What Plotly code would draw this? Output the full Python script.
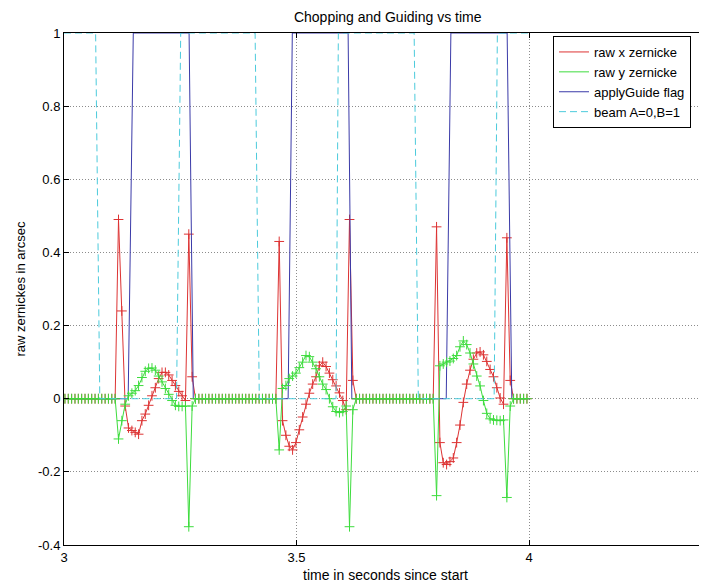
import plotly.graph_objects as go

# ---------------- data ----------------
sample_t0 = 3.002          # first sample time (s)
sample_dt = 0.0072         # sample interval (s)

raw_x_zernike = [
    0, 0, 0, 0, 0, 0, 0, 0, 0, 0, 0, 0, 0, 0, 0,
    0, 0.49, 0.24, -0.02, -0.08, -0.087, -0.092, -0.097, -0.060, -0.042,
    -0.018, 0.008, 0.030, 0.055, 0.072, 0.072, 0.065, 0.050, 0.036, 0.020,
    0.008, -0.005, 0.45, 0.06,
    0, 0, 0, 0, 0, 0, 0, 0, 0, 0, 0, 0, 0, 0, 0, 0, 0, 0, 0, 0, 0, 0, 0, 0,
    0, 0.43, -0.06, -0.10, -0.13, -0.14, -0.12, -0.085, -0.05, -0.015,
    0.015, 0.04, 0.06, 0.09, 0.10, 0.088, 0.07, 0.052, 0.035, 0.016,
    -0.005, -0.03, 0.49, 0.05,
    0, 0, 0, 0, 0, 0, 0, 0, 0, 0, 0, 0, 0, 0, 0, 0, 0, 0, 0, 0, 0, 0, 0,
    0, 0.47, -0.12, -0.175, -0.18, -0.172, -0.162, -0.12, -0.072, -0.01,
    0.04, 0.078, 0.108, 0.125, 0.128, 0.12, 0.102, 0.08, 0.06, 0.03,
    0.002, -0.015, 0.44, 0.05,
    0, 0, 0, 0, 0,
]

raw_y_zernike = [
    0, 0, 0, 0, 0, 0, 0, 0, 0, 0, 0, 0, 0, 0, 0,
    0, -0.11, -0.06, -0.015, 0.008, 0.015, 0.022, 0.036, 0.058, 0.075,
    0.083, 0.084, 0.078, 0.062, 0.046, 0.028, 0.012, -0.005, -0.018, -0.021,
    -0.021, -0.02, -0.35, -0.02,
    0, 0, 0, 0, 0, 0, 0, 0, 0, 0, 0, 0, 0, 0, 0, 0, 0, 0, 0, 0, 0, 0, 0, 0,
    0, -0.14, 0.028, 0.036, 0.055, 0.062, 0.07, 0.085, 0.10, 0.118,
    0.115, 0.10, 0.082, 0.06, 0.04, 0.025, 0.0, -0.022, -0.035, -0.038,
    -0.035, -0.02, -0.35, -0.03,
    0, 0, 0, 0, 0, 0, 0, 0, 0, 0, 0, 0, 0, 0, 0, 0, 0, 0, 0, 0, 0, 0, 0,
    0, -0.265, 0.09, 0.095, 0.10, 0.103, 0.11, 0.118, 0.142, 0.158,
    0.148, 0.125, 0.095, 0.062, 0.035, -0.005, -0.04, -0.055, -0.058, -0.059,
    -0.06, -0.058, -0.27, -0.02,
    0, 0, 0, 0, 0,
]

sample_times = [round(sample_t0 + k * sample_dt, 5) for k in range(len(raw_x_zernike))]

flag_times = [3.0, 3.138, 3.149, 3.269, 3.278, 3.482, 3.491, 3.611, 3.619,
              3.822, 3.832, 3.953, 3.963, 4.002]
apply_guide_flag = [0, 0, 1, 1, 0, 0, 1, 1, 0, 0, 1, 1, 0, 0]

beam_times = [3.0, 3.068, 3.077, 3.242, 3.251, 3.411, 3.420, 3.585, 3.590,
              3.753, 3.762, 3.925, 3.932, 4.002]
beam_ab = [1, 1, 0, 0, 1, 1, 0, 0, 1, 1, 0, 0, 1, 1]

series_names = ["raw x zernicke", "raw y zernicke", "applyGuide flag", "beam A=0,B=1"]

x_tick_vals = [3, 3.5, 4]
x_tick_text = ["3", "3.5", "4"]
y_tick_vals = [-0.4, -0.2, 0, 0.2, 0.4, 0.6, 0.8, 1]
y_tick_text = ["-0.4", "-0.2", "0", "0.2", "0.4", "0.6", "0.8", "1"]

# ---------------- styling ----------------
RED = "#dd3333"
GREEN = "#3ddc3d"
BLUE = "#3a3aa8"
CYAN = "#4ccbdc"
FONT = "Liberation Sans, Arial, Helvetica, sans-serif"

# the page body has an 8px default margin; the figure is sized/offset for it
OFF = 8
W, H = 707 - OFF, 586 - OFF
L, R, T, B = 64 - OFF, 0, 33 - OFF, 586 - 545
px_per_unit = 465.0
plot_w = W - L - R
plot_h = H - T - B
x_max = 3 + plot_w / px_per_unit

fig = go.Figure()

fig.add_trace(go.Scatter(
    x=sample_times, y=raw_x_zernike, mode="lines+markers", showlegend=False,
    line=dict(color=RED, width=1),
    marker=dict(symbol="cross-thin", size=7, line=dict(color=RED, width=1)),
))
fig.add_trace(go.Scatter(
    x=flag_times, y=apply_guide_flag, mode="lines", showlegend=False,
    line=dict(color=BLUE, width=1),
))
fig.add_trace(go.Scatter(
    x=sample_times, y=raw_y_zernike, mode="lines+markers", showlegend=False,
    line=dict(color=GREEN, width=1),
    marker=dict(symbol="cross-thin", size=7, line=dict(color=GREEN, width=1)),
))
fig.add_trace(go.Scatter(
    x=beam_times, y=beam_ab, mode="lines", showlegend=False,
    line=dict(color=CYAN, width=1, dash="7px,4px"),
))

# legend entries (line samples only)
for name, col, dash in zip(series_names, [RED, GREEN, BLUE, CYAN],
                           ["solid", "solid", "solid", "7px,4px"]):
    fig.add_trace(go.Scatter(x=[None], y=[None], mode="lines", name=name,
                             line=dict(color=col, width=1, dash=dash)))

fig.update_layout(
    width=W, height=H,
    margin=dict(l=L, r=R, t=T, b=B, pad=0),
    paper_bgcolor="white", plot_bgcolor="white",
    font=dict(family=FONT, size=13, color="black"),
    title=dict(text="Chopping and Guiding vs time", font=dict(size=14),
               x=(387.7 - OFF) / W, xref="container", xanchor="center",
               y=1 - (17 - OFF) / H, yref="container", yanchor="middle"),
    legend=dict(x=(553 - 64) / plot_w, y=(545 - 36) / plot_h,
                xanchor="left", yanchor="top",
                bgcolor="white", bordercolor="black", borderwidth=1,
                font=dict(size=13), tracegroupgap=0),
)

fig.update_xaxes(
    range=[3, x_max], tickvals=x_tick_vals, ticktext=x_tick_text,
    showline=True, linecolor="black", linewidth=1, mirror="ticks",
    ticks="inside", ticklen=5, tickcolor="black",
    showgrid=True, gridcolor="#8c8c8c", gridwidth=1, griddash="1px,2px",
    zeroline=False, tickfont=dict(size=13),
    title=dict(text="time in seconds since start", font=dict(size=14), standoff=6),
)
fig.update_yaxes(
    range=[-0.4, 1], tickvals=y_tick_vals, ticktext=y_tick_text,
    showline=True, linecolor="black", linewidth=1, mirror=False,
    ticks="inside", ticklen=5, tickcolor="black",
    showgrid=True, gridcolor="#8c8c8c", gridwidth=1, griddash="1px,2px",
    zeroline=False, tickfont=dict(size=13),
    title=dict(text="raw zernickes in arcsec", font=dict(size=13), standoff=9),
)

fig.write_html("out.html")
